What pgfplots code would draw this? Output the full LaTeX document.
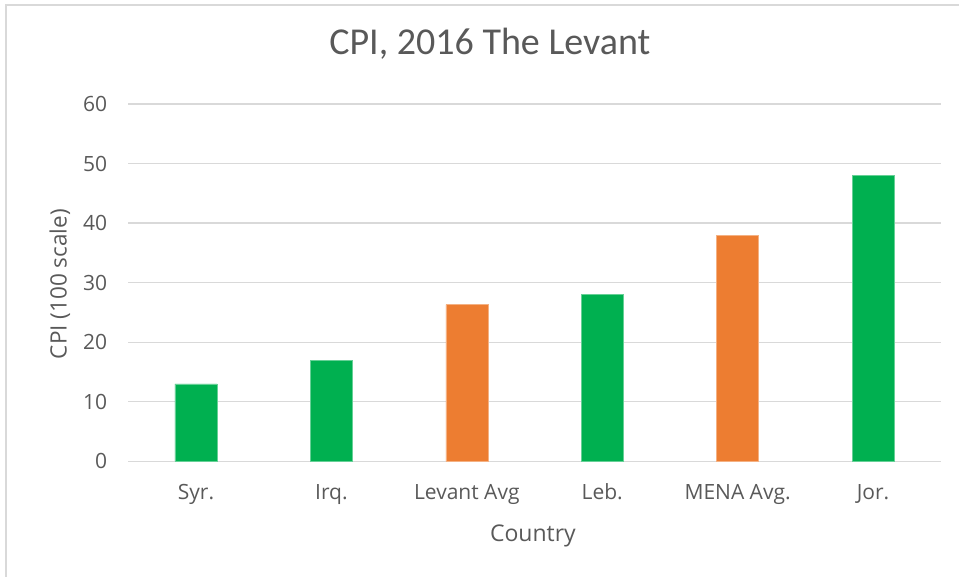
\documentclass[border=0pt]{standalone}
\usepackage{pgfplots}
\pgfplotsset{compat=1.18}
\usepackage{fontspec}
\setmainfont{Open Sans}
\newfontfamily\titlefont{Carlito}
\definecolor{txt}{HTML}{595959}
\definecolor{grd}{HTML}{D9D9D9}
\definecolor{grn}{HTML}{00B050}
\definecolor{org}{HTML}{ED7D31}
\begin{document}
\begin{tikzpicture}[x=1pt,y=1pt]
\useasboundingbox (0,0) rectangle (959,576);
\draw[grd,line width=1.5pt] (6,-2) -- (6,571) -- (962,571);
\begin{axis}[
  at={(128.3pt,114.7pt)}, anchor=south west,
  scale only axis, width=812.4pt, height=357.3pt,
  xmin=-0.5, xmax=5.5, ymin=0, ymax=60,
  ytick={0,10,...,60},
  xtick={0,1,2,3,4,5},
  xticklabels={Syr.,Irq.,Levant Avg,Leb.,MENA Avg.,Jor.},
  ymajorgrids, grid style={grd,line width=1.3pt},
  axis line style={draw=none},
  major tick length=0pt,
  /pgf/number format/assume math mode=true,
  tick label style={font=\fontsize{21}{25}\selectfont, text=txt},
  xticklabel style={anchor=base, inner sep=0pt, yshift=-37.7pt},
  yticklabel style={anchor=east, inner sep=0pt, xshift=-21pt},
  title={\titlefont CPI, 2016 The Levant},
  title style={at={(axis description cs:0.445,1.1212)}, anchor=base, font=\fontsize{38}{44}\selectfont, text=txt},
  xlabel={Country},
  xlabel style={at={(axis description cs:0.498,-0.2245)}, anchor=base, font=\fontsize{23}{27}\selectfont, text=txt},
  ylabel={CPI (100 scale)},
  ylabel style={at={(axis description cs:-0.0841,0.496)}, anchor=center, rotate=0, font=\fontsize{22.5}{26}\selectfont, text=txt},
  ybar, bar width=42pt,
  clip=false,
]
\addplot[fill=grn, draw=grn!60!white, line width=0.6pt, bar shift=0pt] coordinates {(0,13) (1,17) (3,28) (5,48)};
\addplot[fill=org, draw=org!60!white, line width=0.6pt, bar shift=0pt] coordinates {(2,26.3) (4,38)};
\end{axis}
\end{tikzpicture}
\end{document}
